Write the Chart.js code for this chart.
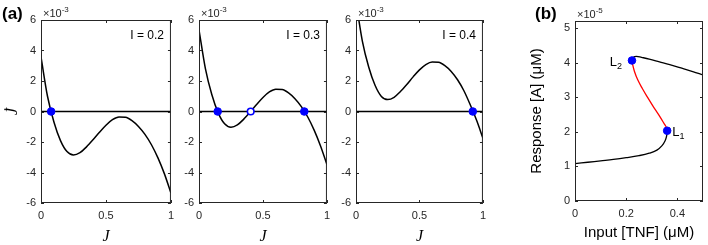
<!DOCTYPE html>
<html>
<head>
<meta charset="utf-8">
<script src="https://cdn.jsdelivr.net/npm/chart.js@4.4.1/dist/chart.umd.min.js"></script>
<style>
  html, body { margin: 0; padding: 0; background: #fff; }
  body { width: 708px; height: 245px; position: relative; overflow: hidden; }
  canvas { position: absolute; top: 0; }
</style>
</head>
<body>
<canvas id="p1" width="180" height="245" style="left:0px"></canvas>
<canvas id="p2" width="159" height="245" style="left:177px"></canvas>
<canvas id="p3" width="156" height="245" style="left:336px"></canvas>
<canvas id="p4" width="216" height="245" style="left:492px"></canvas>
<script>
// panel (a): dJ/dt against J, values in units of 1e-3
const jGrid = [0, 0.05, 0.1, 0.15, 0.2, 0.25, 0.3, 0.35, 0.4, 0.45, 0.5,
               0.55, 0.6, 0.65, 0.7, 0.75, 0.8, 0.85, 0.9, 0.95, 1];
const jdotI02 = [3.58, 1.0, -0.71, -1.91, -2.63, -2.85, -2.7, -2.32, -1.86, -1.36, -0.9,
                 -0.54, -0.36, -0.38, -0.6, -0.98, -1.5, -2.18, -3.04, -4.09, -5.35];
const jdotI03 = [5.36, 2.81, 1.11, -0.09, -0.81, -1.03, -0.88, -0.5, -0.04, 0.46, 0.92,
                 1.28, 1.46, 1.44, 1.22, 0.84, 0.32, -0.36, -1.22, -2.26, -3.48];
const jdotI04 = [7.2, 4.62, 2.92, 1.72, 0.99, 0.78, 0.93, 1.31, 1.77, 2.27, 2.73,
                 3.08, 3.25, 3.23, 3.01, 2.63, 2.08, 1.36, 0.44, -0.58, -1.75];
const stableI02 = [0.078];
const stableI03 = [0.146, 0.823];
const unstableI03 = [0.404];
const stableI04 = [0.92];
const jTicks = [0, 0.5, 1];
const jdotTicks = [-6, -4, -2, 0, 2, 4, 6];

// panel (b): bifurcation diagram, response in units of 1e-5
const lowTnf = [0, 0.05, 0.1, 0.15, 0.2, 0.25, 0.29, 0.32, 0.34, 0.352, 0.358, 0.36];
const lowA   = [1.08, 1.12, 1.16, 1.2, 1.25, 1.31, 1.38, 1.47, 1.6, 1.74, 1.88, 2.03];
const midTnf = [0.36, 0.3575, 0.347, 0.326, 0.304, 0.283, 0.263, 0.245, 0.232, 0.225, 0.2225];
const midA   = [2.03, 2.12, 2.25, 2.5, 2.75, 3.0, 3.25, 3.5, 3.75, 3.95, 4.06];
const upTnf  = [0.2225, 0.228, 0.24, 0.26, 0.29, 0.33, 0.37, 0.42, 0.46, 0.5];
const upA    = [4.06, 4.15, 4.18, 4.15, 4.1, 4.02, 3.94, 3.83, 3.74, 3.64];
const foldTnf = [0.36, 0.2225];
const foldA   = [2.03, 4.06];
const foldNames = ['1', '2'];
const tnfTicks = [0, 0.2, 0.4];
const aTicks = [0, 1, 2, 3, 4, 5];

const SANS = '"Liberation Sans", Arial, Helvetica, sans-serif';
const SERIF = '"Liberation Serif", "DejaVu Serif", serif';
const AXIS = '#262626';
const BLUE = '#0000ff';

const pts = (xs, ys) => xs.map((x, i) => ({ x: x, y: ys[i] }));

// MATLAB-like box with inward ticks on all four sides
const frame = {
    id: 'frame',
    afterDatasetsDraw(chart) {
        const { ctx, chartArea: a, scales: { x, y } } = chart;
        ctx.save();
        ctx.strokeStyle = AXIS;
        ctx.lineWidth = 1;
        ctx.beginPath();
        x.ticks.forEach((t) => {
            const px = Math.round(x.getPixelForValue(t.value)) + 0.5;
            ctx.moveTo(px, a.bottom); ctx.lineTo(px, a.bottom - 3);
            ctx.moveTo(px, a.top); ctx.lineTo(px, a.top + 3);
        });
        y.ticks.forEach((t) => {
            const py = Math.round(y.getPixelForValue(t.value)) + 0.5;
            ctx.moveTo(a.left, py); ctx.lineTo(a.left + 3, py);
            ctx.moveTo(a.right, py); ctx.lineTo(a.right - 3, py);
        });
        ctx.stroke();
        ctx.strokeRect(a.left + 0.5, a.top + 0.5, a.width - 1, a.height - 1);
        ctx.restore();
    }
};

function sciLabel(ctx, x, y, exp) {
    ctx.fillStyle = AXIS;
    ctx.textAlign = 'left';
    ctx.textBaseline = 'alphabetic';
    ctx.font = '11px ' + SANS;
    ctx.fillText('\u00d710', x, y);
    const w = ctx.measureText('\u00d710').width;
    ctx.font = '8px ' + SANS;
    ctx.fillText(exp, x + w, y - 5);
}

function notes(draw) {
    return {
        id: 'notes',
        afterDraw(chart) {
            const ctx = chart.ctx;
            ctx.save();
            draw(chart, ctx);
            ctx.restore();
        }
    };
}

function scaleX(ticks, min, max, height, title, titleFont, titlePad) {
    return {
        type: 'linear', min: min, max: max,
        afterBuildTicks: (s) => { s.ticks = ticks.map((v) => ({ value: v })); },
        afterFit: (s) => { s.height = height; },
        grid: { display: false, drawTicks: false },
        border: { display: false },
        ticks: {
            padding: 6, color: AXIS, font: { family: SANS, size: 11 },
            callback: (v) => String(v)
        },
        title: { display: true, text: title, color: '#000', font: titleFont, padding: titlePad }
    };
}

function scaleY(ticks, min, max, width, title, titleFont, titlePad) {
    return {
        type: 'linear', min: min, max: max,
        afterBuildTicks: (s) => { s.ticks = ticks.map((v) => ({ value: v })); },
        afterFit: (s) => { s.width = width; },
        grid: { display: false, drawTicks: false },
        border: { display: false },
        ticks: {
            padding: 5, color: AXIS, font: { family: SANS, size: 11 },
            callback: (v) => String(v)
        },
        title: { display: !!title, text: title, color: '#000', font: titleFont, padding: titlePad }
    };
}

const jFont = { family: SERIF, size: 16, style: 'italic', lineHeight: 1 };

function cubicPanel(id, yLeftW, rightPad, values, stable, unstable, iLabel, withYTitle, extra) {
    const datasets = [
        {
            data: stable.map((x) => ({ x: x, y: 0 })), showLine: false, order: 0,
            pointRadius: 3.8, pointBackgroundColor: BLUE, pointBorderColor: BLUE, pointBorderWidth: 1
        },
        {
            data: unstable.map((x) => ({ x: x, y: 0 })), showLine: false, order: 0,
            pointRadius: 3.3, pointBackgroundColor: '#fff', pointBorderColor: BLUE, pointBorderWidth: 1.6
        },
        {
            data: pts(jGrid, values), order: 1, borderColor: '#000', borderWidth: 1.5,
            pointRadius: 0, cubicInterpolationMode: 'monotone'
        },
        {
            data: [{ x: 0, y: 0 }, { x: 1, y: 0 }], order: 2, borderColor: '#000',
            borderWidth: 1.5, pointRadius: 0
        }
    ];
    new Chart(document.getElementById(id), {
        type: 'line',
        data: { datasets: datasets },
        options: {
            responsive: false, animation: false, events: [],
            layout: { padding: { left: 0, top: 20, right: rightPad, bottom: 0 } },
            plugins: { legend: { display: false }, tooltip: { enabled: false } },
            scales: {
                x: scaleX(jTicks, 0, 1, 42, 'J', jFont, { top: 0, bottom: 0 }),
                y: scaleY(jdotTicks, -6, 6, yLeftW, withYTitle ? 'J\u0307' : '', jFont, { top: 5, bottom: 0 })
            }
        },
        plugins: [frame, notes((chart, ctx) => {
            const a = chart.chartArea;
            sciLabel(ctx, a.left + 2, 17, '-3');
            ctx.font = '12px ' + SANS;
            ctx.fillStyle = '#000';
            ctx.textAlign = 'right';
            ctx.fillText(iLabel, a.right - 7, 39);
            if (extra) extra(chart, ctx);
        })]
    });
}

cubicPanel('p1', 41, 5, jdotI02, stableI02, [], 'I = 0.2', true, (chart, ctx) => {
    ctx.font = 'bold 17px ' + SANS;
    ctx.textAlign = 'left';
    ctx.fillStyle = '#000';
    ctx.fillText('(a)', 2, 19);
});
cubicPanel('p2', 22, 5, jdotI03, stableI03, unstableI03, 'I = 0.3', false);
cubicPanel('p3', 20, 5, jdotI04, stableI04, [], 'I = 0.4', false);

new Chart(document.getElementById('p4'), {
    type: 'line',
    data: {
        datasets: [
            {
                data: pts(foldTnf, foldA), showLine: false, order: 0,
                pointRadius: 3.8, pointBackgroundColor: BLUE, pointBorderColor: BLUE
            },
            {
                data: pts(lowTnf, lowA), order: 1, borderColor: '#000', borderWidth: 1.3,
                pointRadius: 0, tension: 0.4
            },
            {
                data: pts(midTnf, midA), order: 1, borderColor: '#ff0000', borderWidth: 1.3,
                pointRadius: 0, tension: 0.4
            },
            {
                data: pts(upTnf, upA), order: 1, borderColor: '#000', borderWidth: 1.3,
                pointRadius: 0, tension: 0.4
            }
        ]
    },
    options: {
        responsive: false, animation: false, events: [],
        layout: { padding: { left: 0, top: 21, right: 4, bottom: 0 } },
        plugins: { legend: { display: false }, tooltip: { enabled: false } },
        scales: {
            x: scaleX(tnfTicks, 0, 0.5, 44, 'Input [TNF] (\u03bcM)',
                { family: SANS, size: 15, lineHeight: 1.2 }, { top: 0, bottom: 3 }),
            y: scaleY(aTicks, 0, 5.2, 83, 'Response [A] (\u03bcM)',
                { family: SANS, size: 15, lineHeight: 1.2 }, { top: 36, bottom: 0 })
        }
    },
    plugins: [frame, notes((chart, ctx) => {
        const a = chart.chartArea;
        const { x, y } = chart.scales;
        sciLabel(ctx, a.left + 2, 18, '-5');
        ctx.fillStyle = '#000';
        ctx.font = 'bold 17px ' + SANS;
        ctx.textAlign = 'left';
        ctx.fillText('(b)', 43, 19);
        foldTnf.forEach((t, i) => {
            const px = x.getPixelForValue(t);
            const py = y.getPixelForValue(foldA[i]);
            ctx.font = '13px ' + SANS;
            const lw = ctx.measureText('L').width;
            ctx.font = '9px ' + SANS;
            const sw = ctx.measureText(foldNames[i]).width;
            // L1 sits to the right of its point, L2 to the left
            const lx = i === 0 ? px + 5 : px - 10 - lw - sw;
            ctx.font = '13px ' + SANS;
            ctx.fillText('L', lx, py + 5.5);
            ctx.font = '9px ' + SANS;
            ctx.fillText(foldNames[i], lx + lw, py + 8.5);
        });
    })]
});
</script>
</body>
</html>
